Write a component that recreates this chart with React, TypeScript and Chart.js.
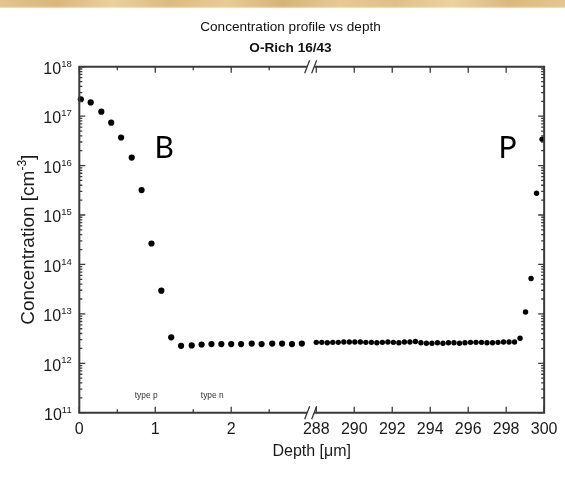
import React, { useEffect, useRef } from 'react';
import { Chart, registerables } from 'chart.js';

Chart.register(...registerables);

// ---------- text ----------
const TITLE = 'Concentration profile vs depth';
const SUBTITLE = 'O-Rich 16/43';
const X_TITLE = 'Depth [μm]';
const Y_TITLE_MAIN = 'Concentration [cm';
const Y_TITLE_SUP = '-3';
const Y_TITLE_END = ']';

// ---------- data ----------
// near-surface boron profile (depth in µm)
const leftDepth = [0.02, 0.15, 0.29, 0.42, 0.55, 0.69, 0.82, 0.95, 1.08, 1.21, 1.34, 1.48, 1.61, 1.74, 1.87, 2.0, 2.13, 2.27, 2.4, 2.54, 2.67, 2.8, 2.93];
const leftConc = [2.2e17, 1.9e17, 1.23e17, 7.4e16, 3.7e16, 1.45e16, 3.2e15, 2.65e14, 2.95e13, 3.35e12, 2.25e12, 2.3e12, 2.4e12, 2.45e12, 2.45e12, 2.45e12, 2.45e12, 2.5e12, 2.45e12, 2.5e12, 2.5e12, 2.45e12, 2.5e12];

// back-side phosphorus profile (depth in µm)
const rightDepth = [288.0, 288.29, 288.58, 288.87, 289.16, 289.45, 289.74, 290.03, 290.32, 290.61, 290.9, 291.19, 291.48, 291.77, 292.06, 292.35, 292.64, 292.93, 293.22, 293.51, 293.8, 294.09, 294.38, 294.67, 294.96, 295.25, 295.54, 295.83, 296.12, 296.41, 296.7, 296.99, 297.28, 297.57, 297.86, 298.15, 298.44, 298.73, 299.02, 299.31, 299.6, 299.89];
const rightConc = [2.65e12, 2.65e12, 2.6e12, 2.65e12, 2.65e12, 2.7e12, 2.7e12, 2.7e12, 2.7e12, 2.65e12, 2.65e12, 2.6e12, 2.65e12, 2.7e12, 2.65e12, 2.6e12, 2.7e12, 2.7e12, 2.75e12, 2.6e12, 2.55e12, 2.55e12, 2.6e12, 2.55e12, 2.6e12, 2.6e12, 2.55e12, 2.6e12, 2.65e12, 2.65e12, 2.65e12, 2.6e12, 2.6e12, 2.65e12, 2.7e12, 2.7e12, 2.7e12, 3.2e12, 1.09e13, 5.2e13, 2.75e15, 3.4e16];

// ---------- axis ticks ----------
const leftTicks = [0, 1, 2];
const leftMinorTicks = [0.5, 1.5, 2.5];
const rightTicks = [288, 290, 292, 294, 296, 298, 300];
const yDecades = [11, 12, 13, 14, 15, 16, 17, 18];
const yMinorMultipliers = [2, 3, 4, 5, 6, 7, 8, 9];

// ---------- annotations (data coordinates) ----------
const bigLabels = [
  { text: 'B', depth: 0.99, conc: 1.42e16 },
  { text: 'P', depth: 297.6, conc: 1.42e16 },
];
const smallLabels = [
  { text: 'type p', depth: 0.73, conc: 2.0e11 },
  { text: 'type n', depth: 1.6, conc: 2.0e11 },
];

// ---------- broken x axis mapping ----------
const LEFT_END = 3.0;
const GAP = 0.12;
const RIGHT_START = 288;
const RIGHT_FACTOR = 0.25;
const RIGHT_END = 300;
const toAxis = (d: number) => (d <= LEFT_END ? d : LEFT_END + GAP + (d - RIGHT_START) * RIGHT_FACTOR);
const fromAxis = (u: number) => (u <= LEFT_END + 1e-9 ? u : RIGHT_START + (u - LEFT_END - GAP) / RIGHT_FACTOR);

const FONT = '"Liberation Sans", Arial, Helvetica, sans-serif';
const AXIS_COLOR = '#3a3a3a';
const TEXT_COLOR = '#1a1a1a';

const W = 565;
const H = 482;

const backgroundPlugin = {
  id: 'bgBand',
  beforeDraw(chart: any) {
    const { ctx } = chart;
    ctx.save();
    ctx.fillStyle = '#ffffff';
    ctx.fillRect(0, 0, W, H);
    const g = ctx.createLinearGradient(0, 0, W, 0);
    const stops = ['#e2c48e', '#d9b77c', '#ead09c', '#dcbb80', '#e8cc96', '#d6b478', '#e6c993', '#dfc08a', '#ebd2a0', '#dbb97e', '#e4c68f'];
    stops.forEach((c, i) => g.addColorStop(i / (stops.length - 1), c));
    ctx.fillStyle = g;
    ctx.fillRect(0, 0, W, 8);
    const v = ctx.createLinearGradient(0, 6, 0, 10);
    v.addColorStop(0, 'rgba(255,255,255,0)');
    v.addColorStop(1, 'rgba(255,255,255,1)');
    ctx.fillStyle = v;
    ctx.fillRect(0, 6, W, 4);
    ctx.restore();
  },
};

const framePlugin = {
  id: 'frame',
  afterDatasetsDraw(chart: any) {
    const { ctx, chartArea: a, scales } = chart;
    const xs = scales.x;
    const ys = scales.y;
    ctx.save();

    // axis frame with break
    const b0 = xs.getPixelForValue(LEFT_END);
    const s1 = b0;
    const s2 = b0 + 7;
    ctx.strokeStyle = AXIS_COLOR;
    ctx.lineWidth = 2;
    ctx.lineCap = 'butt';
    ctx.beginPath();
    ctx.moveTo(a.left, a.top - 1);
    ctx.lineTo(a.left, a.bottom + 1);
    ctx.moveTo(a.right, a.top - 1);
    ctx.lineTo(a.right, a.bottom + 1);
    for (const y of [a.top, a.bottom]) {
      ctx.moveTo(a.left, y);
      ctx.lineTo(s1, y);
      ctx.moveTo(s2, y);
      ctx.lineTo(a.right, y);
    }
    ctx.stroke();

    // break slashes
    ctx.lineWidth = 1.3;
    ctx.beginPath();
    for (const y of [a.top, a.bottom]) {
      for (const s of [s1, s2]) {
        ctx.moveTo(s - 2.5, y + 6.5);
        ctx.lineTo(s + 2.5, y - 6.5);
      }
    }
    ctx.stroke();

    // x ticks (inward)
    ctx.lineWidth = 1.3;
    ctx.beginPath();
    const xMajor = [...leftTicks, ...rightTicks];
    for (const v of xMajor) {
      const x = xs.getPixelForValue(toAxis(v));
      ctx.moveTo(x, a.bottom);
      ctx.lineTo(x, a.bottom - 6);
      ctx.moveTo(x, a.top);
      ctx.lineTo(x, a.top + 6);
    }
    for (const v of leftMinorTicks) {
      const x = xs.getPixelForValue(toAxis(v));
      ctx.moveTo(x, a.bottom);
      ctx.lineTo(x, a.bottom - 3.5);
      ctx.moveTo(x, a.top);
      ctx.lineTo(x, a.top + 3.5);
    }
    // y ticks (inward, both sides)
    for (const k of yDecades) {
      const y = ys.getPixelForValue(Math.pow(10, k));
      ctx.moveTo(a.left, y);
      ctx.lineTo(a.left + 6, y);
      ctx.moveTo(a.right, y);
      ctx.lineTo(a.right - 6, y);
      if (k < yDecades[yDecades.length - 1]) {
        for (const m of yMinorMultipliers) {
          const ym = ys.getPixelForValue(m * Math.pow(10, k));
          ctx.moveTo(a.left, ym);
          ctx.lineTo(a.left + 3, ym);
          ctx.moveTo(a.right, ym);
          ctx.lineTo(a.right - 3, ym);
        }
      }
    }
    ctx.stroke();

    // y tick labels 10^k
    ctx.fillStyle = TEXT_COLOR;
    ctx.textBaseline = 'alphabetic';
    for (const k of yDecades) {
      const y = ys.getPixelForValue(Math.pow(10, k));
      const exp = String(k);
      ctx.font = `9.5px ${FONT}`;
      const we = ctx.measureText(exp).width;
      const right = a.left - 7.6;
      ctx.textAlign = 'right';
      ctx.fillText(exp, right, y + 0.2);
      ctx.font = `16px ${FONT}`;
      ctx.fillText('10', right - we, y + 7.3);
    }

    // y title (rotated, with superscript)
    ctx.save();
    const cy = (a.top + a.bottom) / 2;
    ctx.translate(33.5, cy);
    ctx.rotate(-Math.PI / 2);
    ctx.textAlign = 'left';
    const mainFont = `19px ${FONT}`;
    const supFont = `12px ${FONT}`;
    ctx.font = mainFont;
    const w1 = ctx.measureText(Y_TITLE_MAIN).width;
    const w3 = ctx.measureText(Y_TITLE_END).width;
    ctx.font = supFont;
    const w2 = ctx.measureText(Y_TITLE_SUP).width;
    let x0 = -(w1 + w2 + w3) / 2;
    ctx.font = mainFont;
    ctx.fillText(Y_TITLE_MAIN, x0, 0);
    x0 += w1;
    ctx.font = supFont;
    ctx.fillText(Y_TITLE_SUP, x0, -8);
    x0 += w2;
    ctx.font = mainFont;
    ctx.fillText(Y_TITLE_END, x0, 0);
    ctx.restore();

    // annotations
    ctx.textAlign = 'left';
    ctx.textBaseline = 'alphabetic';
    ctx.fillStyle = '#000';
    ctx.font = `30px Lato, "Open Sans", ${FONT}`;
    for (const l of bigLabels) {
      ctx.fillText(l.text, xs.getPixelForValue(toAxis(l.depth)), ys.getPixelForValue(l.conc));
    }
    ctx.fillStyle = '#333';
    ctx.font = `8.4px ${FONT}`;
    for (const l of smallLabels) {
      ctx.fillText(l.text, xs.getPixelForValue(toAxis(l.depth)), ys.getPixelForValue(l.conc));
    }
    ctx.restore();
  },
};

export default function App() {
  const ref = useRef<HTMLCanvasElement | null>(null);

  useEffect(() => {
    if (!ref.current) return;
    Chart.defaults.font.family = FONT;
    const chart = new Chart(ref.current, {
      type: 'scatter',
      data: {
        datasets: [
          {
            data: leftDepth.map((d, i) => ({ x: toAxis(d), y: leftConc[i] })),
            pointRadius: 3.1,
            pointBackgroundColor: '#000',
            pointBorderWidth: 0,
            showLine: false,
            clip: false as any,
          },
          {
            data: rightDepth.map((d, i) => ({ x: toAxis(d), y: rightConc[i] })),
            pointRadius: 2.7,
            pointBackgroundColor: '#000',
            pointBorderWidth: 0,
            showLine: false,
            clip: false as any,
          },
        ],
      },
      options: {
        responsive: false,
        animation: false,
        layout: { padding: { left: 16, right: 0, top: 0, bottom: 0 } },
        plugins: {
          legend: { display: false },
          tooltip: { enabled: false },
          title: {
            display: true,
            text: TITLE,
            color: '#111',
            font: { size: 13.6, weight: 'normal', family: FONT },
            padding: { top: 19.5, bottom: 0 },
          },
          subtitle: {
            display: true,
            text: SUBTITLE,
            color: '#111',
            font: { size: 13.6, weight: 'bold', family: FONT },
            padding: { top: 4.7, bottom: 9.9 },
          },
        },
        scales: {
          x: {
            type: 'linear',
            min: 0,
            max: toAxis(RIGHT_END),
            afterBuildTicks: (s: any) => {
              s.ticks = [...leftTicks, ...rightTicks].map((v) => ({ value: toAxis(v) }));
            },
            afterFit: (s: any) => {
              s.height = 69.3;
            },
            ticks: {
              autoSkip: false,
              maxRotation: 0,
              padding: 7.5,
              color: TEXT_COLOR,
              font: { size: 16, family: FONT },
              callback: (v: any) => String(Math.round(fromAxis(Number(v)))),
            },
            grid: { display: false, drawTicks: false },
            border: { display: false },
            title: {
              display: true,
              text: X_TITLE,
              color: TEXT_COLOR,
              font: { size: 16, family: FONT },
              padding: { top: 0, bottom: 20.6 },
            },
          },
          y: {
            type: 'logarithmic',
            min: 1e11,
            max: 1e18,
            afterFit: (s: any) => {
              s.width = 63.3;
            },
            ticks: { display: false },
            grid: { display: false, drawTicks: false },
            border: { display: false },
          },
          y2: {
            type: 'linear',
            position: 'right',
            display: true,
            afterFit: (s: any) => {
              s.width = 16.3;
            },
            ticks: { display: false },
            grid: { display: false, drawTicks: false },
            border: { display: false },
          },
        },
      } as any,
      plugins: [backgroundPlugin, framePlugin],
    });
    return () => chart.destroy();
  }, []);

  return (
    <div style={{ position: 'absolute', left: 0, top: 0, width: W, height: H }}>
      <canvas ref={ref} width={W} height={H} style={{ display: 'block', width: W, height: H }} />
    </div>
  );
}
